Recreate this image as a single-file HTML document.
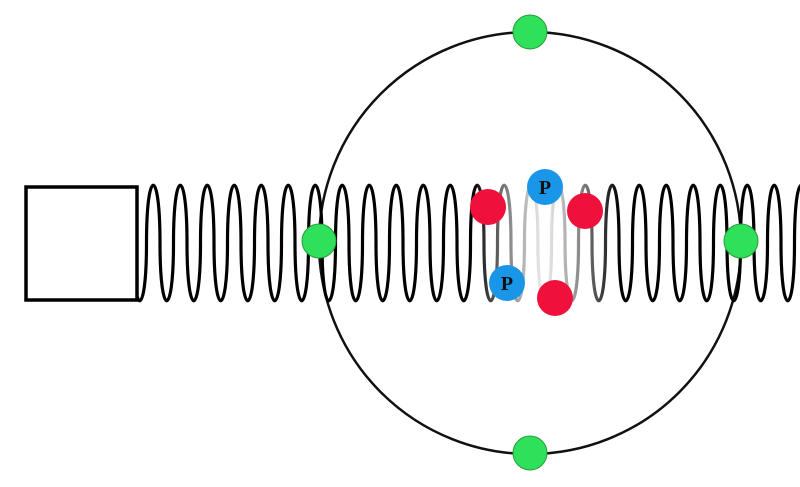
<!DOCTYPE html>
<html><head><style>html,body{margin:0;padding:0;background:#fff;}svg{display:block}</style></head>
<body>
<svg width="800" height="487" viewBox="0 0 800 487" xmlns="http://www.w3.org/2000/svg">
<defs>
<linearGradient id="g" gradientUnits="userSpaceOnUse" x1="0" y1="0" x2="800" y2="0">
<stop offset="0" stop-color="#000"/>
<stop offset="0.59" stop-color="#000"/>
<stop offset="0.63" stop-color="#777"/>
<stop offset="0.68" stop-color="#f2f2f2"/>
<stop offset="0.725" stop-color="#888"/>
<stop offset="0.775" stop-color="#000"/>
<stop offset="1" stop-color="#000"/>
</linearGradient>
<clipPath id="c"><rect x="137" y="0" width="700" height="487"/></clipPath>
</defs>
<circle cx="530" cy="243" r="211" fill="none" stroke="#111" stroke-width="2.5"/>
<path id="sp" clip-path="url(#c)" fill="none" stroke="url(#g)" stroke-width="3.2" d=""/>
<rect x="26" y="187" width="111" height="113" fill="none" stroke="#000" stroke-width="3.5"/>
<g stroke="#2a9a3a" stroke-width="1" fill="#2ee05a">
<circle cx="530" cy="32" r="17"/>
<circle cx="319" cy="241" r="17"/>
<circle cx="741" cy="241" r="17"/>
<circle cx="530" cy="453" r="17"/>
</g>
<g fill="#f0103c">
<circle cx="488" cy="207" r="18"/>
<circle cx="585" cy="211" r="18"/>
<circle cx="555" cy="298" r="18"/>
</g>
<g fill="#1a96e8">
<circle cx="545" cy="187" r="18"/>
<circle cx="507" cy="283" r="18"/>
</g>
<g font-family="Liberation Serif, serif" font-weight="bold" font-size="20" fill="#111" text-anchor="middle">
<text x="545" y="194">P</text>
<text x="507" y="290">P</text>
</g>
<script>
(function(){var x=119.5,p=27,m=243,o=77,d="M"+x+","+m;
while(x<820){d+=" C"+x+","+(m-o)+" "+(x+p/2)+","+(m-o)+" "+(x+p/2)+","+m;
d+=" C"+(x+p/2)+","+(m+o)+" "+(x+p)+","+(m+o)+" "+(x+p)+","+m;x+=p;}
document.getElementById("sp").setAttribute("d",d);})();
</script>
</svg>
</body></html>
